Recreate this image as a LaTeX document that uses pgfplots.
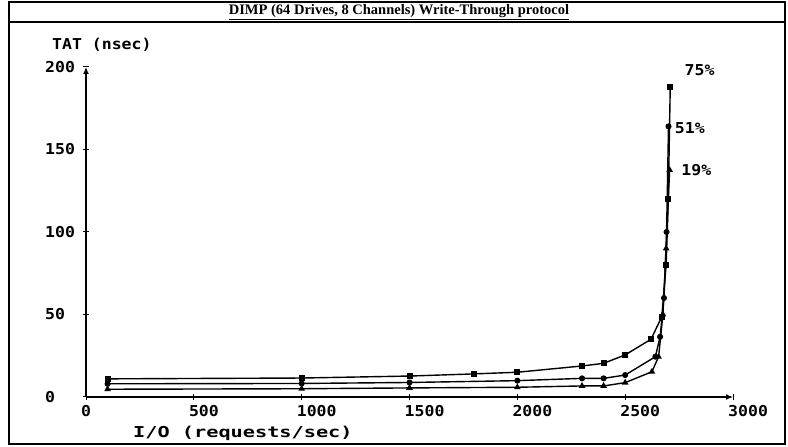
\documentclass[border=0pt]{standalone}
\usepackage{fontspec}
\usepackage{pgfplots}
\pgfplotsset{compat=1.18}
\usetikzlibrary{arrows.meta}
\setmainfont{Liberation Serif}
\newfontfamily\tickfont[FakeStretch=1.1]{DejaVu Sans Mono}
\newfontfamily\xlabfont[FakeStretch=1.35]{DejaVu Sans Mono}
\begin{document}
\begin{tikzpicture}
\useasboundingbox (0pt,0pt) rectangle (788pt,447pt);
\draw[line width=1.2pt] (9pt,3pt) rectangle (785pt,445pt);
\draw[line width=1.2pt] (9pt,425pt) -- (785pt,425pt);
\node[font=\bfseries\fontsize{14.5}{14.5}\selectfont] at (399pt,435pt) {\underline{DIMP (64 Drives, 8 Channels) Write-Through protocol}};
\node[anchor=west,font=\tickfont\bfseries\fontsize{15}{15}\selectfont,inner sep=0pt] at (52pt,402pt) {TAT (nsec)};
\node[anchor=west,font=\xlabfont\bfseries\fontsize{15}{15}\selectfont,inner sep=0pt] at (133pt,14pt) {I/O (requests/sec)};
\begin{axis}[
  at={(86pt,50pt)}, anchor=south west,
  scale only axis, width=647pt, height=330pt,
  xmin=0, xmax=3000, ymin=0, ymax=200,
  axis lines=left,
  axis line style={line width=1.2pt, -{Latex[length=7pt,width=6pt]}},
  xtick={0,500,...,3000}, ytick={0,50,...,200},
  tick align=center, major tick length=6pt,
  tick style={line width=1pt, black},
  /pgf/number format/assume math mode=true,
  /pgf/number format/set thousands separator={},
  ticklabel style={font=\tickfont\bfseries\fontsize{15}{15}\selectfont},
  xticklabel style={anchor=north west, inner sep=0pt, xshift=-5pt, yshift=-5pt},
  yticklabel style={anchor=west, inner sep=0pt, xshift=-38pt},
  clip=false,
]
\addplot[line width=1.4pt, black, mark=square*, mark size=2.3pt] coordinates {
(100,11)(1000,11.5)(1500,12.7)(1800,14)(2000,15)(2300,18.8)(2400,20.4)(2500,25.5)(2620,35)(2670,48.7)(2690,80)(2700,120)(2709,188)};
\addplot[line width=1.4pt, black, mark=*, mark size=2.3pt] coordinates {
(100,8)(1000,8.2)(1500,8.8)(2000,9.9)(2300,11.3)(2400,11.3)(2500,13.3)(2640,24.4)(2662,36.5)(2680,60)(2692,100)(2701,164)};
\addplot[line width=1.4pt, black, mark=triangle*, mark size=2.5pt] coordinates {
(100,4.7)(1000,5)(1500,5.5)(2000,5.9)(2300,6.7)(2400,6.7)(2500,8.7)(2624,15.3)(2655,24.4)(2675,50)(2690,90)(2706,137.6)};
\node[font=\tickfont\bfseries\fontsize{15}{15}\selectfont] at (axis cs:2845,198) {75\%};
\node[font=\tickfont\bfseries\fontsize{15}{15}\selectfont] at (axis cs:2800,163) {51\%};
\node[font=\tickfont\bfseries\fontsize{15}{15}\selectfont] at (axis cs:2830,137.6) {19\%};
\end{axis}
\end{tikzpicture}
\end{document}
